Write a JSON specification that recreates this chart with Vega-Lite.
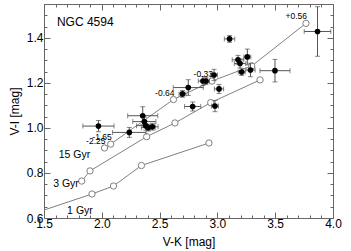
{
  "$schema": "https://vega.github.io/schema/vega-lite/v6.json",
  "width": 289,
  "height": 214,
  "autosize": "none",
  "padding": {"left": 44, "top": 4, "right": 18, "bottom": 33},
  "config": {
    "font": "Liberation Sans",
    "view": {"stroke": "#666", "strokeWidth": 1},
    "axis": {"grid": false, "domain": false, "tickColor": "#666", "labelColor": "#000", "labelFontSize": 12, "titleFontSize": 12, "titleFontWeight": "normal", "titleColor": "#000", "labelFlush": false, "labelOverlap": false}
  },
  "datasets": {
    "models": [
      {"model": "1 Gyr", "vk": 1.3, "vi": 0.601},
      {"model": "1 Gyr", "vk": 1.915, "vi": 0.7065},
      {"model": "1 Gyr", "vk": 2.101, "vi": 0.742},
      {"model": "1 Gyr", "vk": 2.343, "vi": 0.833},
      {"model": "1 Gyr", "vk": 2.927, "vi": 0.933},
      {"model": "3 Gyr", "vk": 1.826, "vi": 0.764},
      {"model": "3 Gyr", "vk": 1.898, "vi": 0.809},
      {"model": "3 Gyr", "vk": 2.388, "vi": 0.961},
      {"model": "3 Gyr", "vk": 2.633, "vi": 1.022},
      {"model": "3 Gyr", "vk": 2.942, "vi": 1.112},
      {"model": "3 Gyr", "vk": 3.369, "vi": 1.213},
      {"model": "15 Gyr", "vk": 2.023, "vi": 0.911, "z": "-2.25"},
      {"model": "15 Gyr", "vk": 2.077, "vi": 0.928, "z": "-1.65"},
      {"model": "15 Gyr", "vk": 2.62, "vi": 1.126, "z": "-0.64"},
      {"model": "15 Gyr", "vk": 2.953, "vi": 1.208, "z": "-0.33"},
      {"model": "15 Gyr", "vk": 3.297, "vi": 1.275},
      {"model": "15 Gyr", "vk": 3.766, "vi": 1.464, "z": "+0.56"}
    ],
    "modelNames": [
      {"name": "15 Gyr", "vk": 1.764, "vi": 0.88},
      {"name": "3 Gyr", "vk": 1.69, "vi": 0.751},
      {"name": "1 Gyr", "vk": 1.811, "vi": 0.631}
    ],
    "obs": [
      {"vk": 1.971, "vi": 1.008, "ek": 0.135, "ei": 0.025},
      {"vk": 2.238, "vi": 0.98, "ek": 0.145, "ei": 0.022},
      {"vk": 2.354, "vi": 1.054, "ek": 0.13, "ei": 0.04},
      {"vk": 2.368, "vi": 1.028, "ek": 0.1, "ei": 0.02},
      {"vk": 2.38, "vi": 1.01, "ek": 0.08, "ei": 0.02},
      {"vk": 2.402, "vi": 1.001, "ek": 0.06, "ei": 0.015},
      {"vk": 2.437, "vi": 1.005, "ek": 0.05, "ei": 0.015},
      {"vk": 2.698, "vi": 1.151, "ek": 0.03, "ei": 0.015},
      {"vk": 2.748, "vi": 1.179, "ek": 0.13, "ei": 0.035},
      {"vk": 2.786, "vi": 1.095, "ek": 0.07, "ei": 0.02},
      {"vk": 2.875, "vi": 1.208, "ek": 0.04, "ei": 0.02},
      {"vk": 2.901, "vi": 1.208, "ek": 0.03, "ei": 0.015},
      {"vk": 2.971, "vi": 1.235, "ek": 0.03, "ei": 0.025},
      {"vk": 3.014, "vi": 1.173, "ek": 0.04, "ei": 0.02},
      {"vk": 2.979, "vi": 1.097, "ek": 0.03, "ei": 0.025},
      {"vk": 3.105, "vi": 1.395, "ek": 0.045, "ei": 0.015},
      {"vk": 3.178, "vi": 1.302, "ek": 0.05, "ei": 0.02},
      {"vk": 3.196, "vi": 1.286, "ek": 0.05, "ei": 0.02},
      {"vk": 3.259, "vi": 1.315, "ek": 0.03, "ei": 0.035},
      {"vk": 3.21, "vi": 1.248, "ek": 0.03, "ei": 0.015},
      {"vk": 3.286, "vi": 1.257, "ek": 0.04, "ei": 0.03},
      {"vk": 3.498, "vi": 1.254, "ek": 0.13, "ei": 0.05},
      {"vk": 3.866, "vi": 1.428, "ek": 0.115, "ei": 0.11}
    ]
  },
  "resolve": {"axis": {"x": "independent", "y": "independent"}},
  "layer": [
    {
      "data": {"name": "models"},
      "mark": {"type": "line", "color": "#808080", "strokeWidth": 1, "clip": true, "point": {"filled": false, "fill": "white", "stroke": "#808080", "size": 40, "strokeWidth": 1}},
      "encoding": {
        "x": {"field": "vk", "type": "quantitative", "scale": {"domain": [1.5, 4.0], "nice": false, "zero": false},
          "axis": {"orient": "bottom", "title": "V-K [mag]", "values": [1.5,1.6,1.7,1.8,1.9,2.0,2.1,2.2,2.3,2.4,2.5,2.6,2.7,2.8,2.9,3.0,3.1,3.2,3.3,3.4,3.5,3.6,3.7,3.8,3.9,4.0],
            "labelExpr": "abs(datum.value*2-round(datum.value*2))<0.001 ? format(datum.value,'.1f') : ''",
            "tickSize": {"condition": {"test": "abs(datum.value*2-round(datum.value*2))<0.001", "value": -6}, "value": -3},
            "labelPadding": 6, "titlePadding": 4}},
        "y": {"field": "vi", "type": "quantitative", "scale": {"domain": [0.6, 1.55], "nice": false, "zero": false},
          "axis": {"orient": "left", "title": "V-I [mag]", "values": [0.6,0.65,0.7,0.75,0.8,0.85,0.9,0.95,1.0,1.05,1.1,1.15,1.2,1.25,1.3,1.35,1.4,1.45,1.5,1.55],
            "labelExpr": "abs(datum.value*5-round(datum.value*5))<0.001 ? format(datum.value,'.1f') : ''",
            "tickSize": {"condition": {"test": "abs(datum.value*5-round(datum.value*5))<0.001", "value": -6}, "value": -3},
            "labelPadding": 7, "titlePadding": 5}},
        "detail": {"field": "model"},
        "order": {"field": "vk", "type": "quantitative"}
      }
    },
    {
      "data": {"name": "obs"},
      "mark": {"type": "errorbar", "color": "#555", "ticks": {"size": 5, "color": "#555"}, "rule": {"strokeWidth": 1}},
      "encoding": {
        "x": {"field": "vk", "type": "quantitative", "scale": {"domain": [1.5, 4.0], "nice": false, "zero": false},
          "axis": {"orient": "top", "title": null, "labels": false, "values": [1.5,1.6,1.7,1.8,1.9,2.0,2.1,2.2,2.3,2.4,2.5,2.6,2.7,2.8,2.9,3.0,3.1,3.2,3.3,3.4,3.5,3.6,3.7,3.8,3.9,4.0],
            "tickSize": {"condition": {"test": "abs(datum.value*2-round(datum.value*2))<0.001", "value": -6}, "value": -3}}},
        "xError": {"field": "ek"},
        "y": {"field": "vi", "type": "quantitative", "scale": {"domain": [0.6, 1.55], "nice": false, "zero": false},
          "axis": {"orient": "right", "title": null, "labels": false, "values": [0.6,0.65,0.7,0.75,0.8,0.85,0.9,0.95,1.0,1.05,1.1,1.15,1.2,1.25,1.3,1.35,1.4,1.45,1.5,1.55],
            "tickSize": {"condition": {"test": "abs(datum.value*5-round(datum.value*5))<0.001", "value": -6}, "value": -3}}}
      }
    },
    {
      "data": {"name": "obs"},
      "mark": {"type": "errorbar", "color": "#555", "ticks": {"size": 5, "color": "#555"}, "rule": {"strokeWidth": 1}},
      "encoding": {
        "x": {"field": "vk", "type": "quantitative", "scale": {"domain": [1.5, 4.0], "nice": false, "zero": false}, "axis": null},
        "y": {"field": "vi", "type": "quantitative", "scale": {"domain": [0.6, 1.55], "nice": false, "zero": false}, "axis": null},
        "yError": {"field": "ei"}
      }
    },
    {
      "data": {"name": "obs"},
      "mark": {"type": "point", "filled": true, "color": "#000", "size": 32, "opacity": 1},
      "encoding": {
        "x": {"field": "vk", "type": "quantitative", "scale": {"domain": [1.5, 4.0], "nice": false, "zero": false}, "axis": null},
        "y": {"field": "vi", "type": "quantitative", "scale": {"domain": [0.6, 1.55], "nice": false, "zero": false}, "axis": null}
      }
    },
    {
      "data": {"name": "models"},
      "transform": [{"filter": "isValid(datum.z)"}],
      "mark": {"type": "text", "fontSize": 8.5, "align": "right", "baseline": "middle", "dx": 1, "dy": -7, "color": "#000"},
      "encoding": {
        "x": {"field": "vk", "type": "quantitative", "scale": {"domain": [1.5, 4.0], "nice": false, "zero": false}, "axis": null},
        "y": {"field": "vi", "type": "quantitative", "scale": {"domain": [0.6, 1.55], "nice": false, "zero": false}, "axis": null},
        "text": {"field": "z"}
      }
    },
    {
      "data": {"name": "modelNames"},
      "mark": {"type": "text", "fontSize": 10.5, "align": "center", "baseline": "middle", "color": "#000"},
      "encoding": {
        "x": {"field": "vk", "type": "quantitative", "scale": {"domain": [1.5, 4.0], "nice": false, "zero": false}, "axis": null},
        "y": {"field": "vi", "type": "quantitative", "scale": {"domain": [0.6, 1.55], "nice": false, "zero": false}, "axis": null},
        "text": {"field": "name"}
      }
    },
    {
      "data": {"values": [{"label": "NGC 4594"}]},
      "mark": {"type": "text", "fontSize": 12, "align": "left", "baseline": "middle", "color": "#000"},
      "encoding": {
        "x": {"datum": 1.612, "type": "quantitative", "scale": {"domain": [1.5, 4.0], "nice": false, "zero": false}, "axis": null},
        "y": {"datum": 1.47, "type": "quantitative", "scale": {"domain": [0.6, 1.55], "nice": false, "zero": false}, "axis": null},
        "text": {"field": "label"}
      }
    }
  ]
}
